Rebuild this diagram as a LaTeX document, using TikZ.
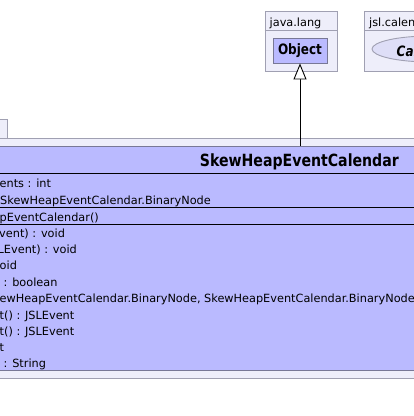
\documentclass[tikz,border=0pt]{standalone}
\usepackage{fontspec}
\setmainfont{DejaVu Sans}
\newfontfamily\hdrfont[FakeStretch=0.84]{DejaVu Sans}
\usetikzlibrary{arrows.meta,shapes.geometric}
\definecolor{pkgfill}{RGB}{238,238,250}
\definecolor{pkgline}{RGB}{160,160,178}
\definecolor{clsfill}{RGB}{186,186,255}
\definecolor{clsline}{RGB}{120,120,150}
\definecolor{ellfill}{RGB}{222,222,247}
\tikzset{
  x=1pt, y=-1pt,
  pkgbox/.style={draw=pkgline, fill=pkgfill, line width=0.9pt, inner sep=0pt},
  clsbox/.style={draw=clsline, fill=clsfill, line width=0.9pt, inner sep=0pt},
  objbox/.style={draw=clsline, fill=clsfill, line width=0.9pt, inner sep=0pt,
    font=\hdrfont\bfseries\fontsize{14.3}{16}\selectfont},
  sep/.style={draw=black, line width=0.8pt},
  txt/.style={anchor=base west, inner sep=0pt, font=\fontsize{11.3}{13}\selectfont, text=black},
  pkglabel/.style={anchor=base west, inner sep=0pt, font=\fontsize{11.3}{13}\selectfont, text=black},
  inherit/.style={draw=black, line width=0.9pt, -{Triangle[open, length=16pt, width=13pt, fill=white]}},
}
\begin{document}
\begin{tikzpicture}
\useasboundingbox (0,0) rectangle (414,416);
\clip (0,0) rectangle (414,416);
% main package
\node[pkgbox, minimum width=30pt, minimum height=19pt] (maintab) at (-8,128.5) {};
\node[pkgbox, minimum width=440pt, minimum height=240pt] (mainpkg) at (207,258) {};
% class
\node[clsbox, minimum width=440pt, minimum height=224pt] (cls) at (207,258.5) {};
\draw[sep] (-10,173) -- (424,173);
\draw[sep] (-10,207) -- (424,207);
\draw[sep] (-10,224) -- (424,224);
\node[anchor=base east, inner sep=0pt, font=\hdrfont\bfseries\fontsize{16.8}{19}\selectfont] (clsname) at (399,166) {SkewHeapEventCalendar};
\node[txt] (a1) at (-0.5,187) {ents : int};
\node[txt] (a2) at (0,204) {SkewHeapEventCalendar.BinaryNode};
\node[txt] (c1) at (-0.5,221) {pEventCalendar()};
\node[txt] (m1) at (-1,237) {vent) : void};
\node[txt] (m2) at (-2.5,253) {LEvent) : void};
\node[txt] (m3) at (-0.5,269) {oid};
\node[txt] (m4) at (3.5,286) {: boolean};
\node[txt] (m5) at (-0.5,302) {ewHeapEventCalendar.BinaryNode, SkewHeapEventCalendar.BinaryNode};
\node[txt] (m6) at (-0.5,319) {t() : JSLEvent};
\node[txt] (m7) at (-0.5,335) {t() : JSLEvent};
\node[txt] (m8) at (-0.5,351) {t};
\node[txt] (m9) at (3.5,367) {: String};
% java.lang package
\node[pkgbox, minimum width=72pt, minimum height=60pt] (jl) at (301,41) {};
\draw[draw=pkgline, line width=0.9pt] (jl.west |- 0,30) -- (jl.east |- 0,30);
\node[pkglabel] (jllabel) at (269.5,26) {java.lang};
\node[objbox, minimum width=54pt, minimum height=25pt] (obj) at (300,50.5) {Object};
% jsl.calendar package
\node[pkgbox, minimum width=80pt, minimum height=60pt] (jc) at (404,41) {};
\draw[draw=pkgline, line width=0.9pt] (jc.west |- 0,30) -- (jc.east |- 0,30);
\node[pkglabel] (jclabel) at (369,26) {jsl.calendar};
\node[draw=pkgline, fill=ellfill, line width=0.9pt, ellipse, minimum width=116pt, minimum height=26pt, inner sep=0pt] (cal) at (430,49) {};
\node[anchor=base west, inner sep=0pt, font=\hdrfont\bfseries\itshape\fontsize{14.3}{16}\selectfont] (calname) at (396.5,56.5) {Calendar};
% generalization
\draw[inherit] (obj.south |- cls.north) -- (obj.south);
\end{tikzpicture}
\end{document}
